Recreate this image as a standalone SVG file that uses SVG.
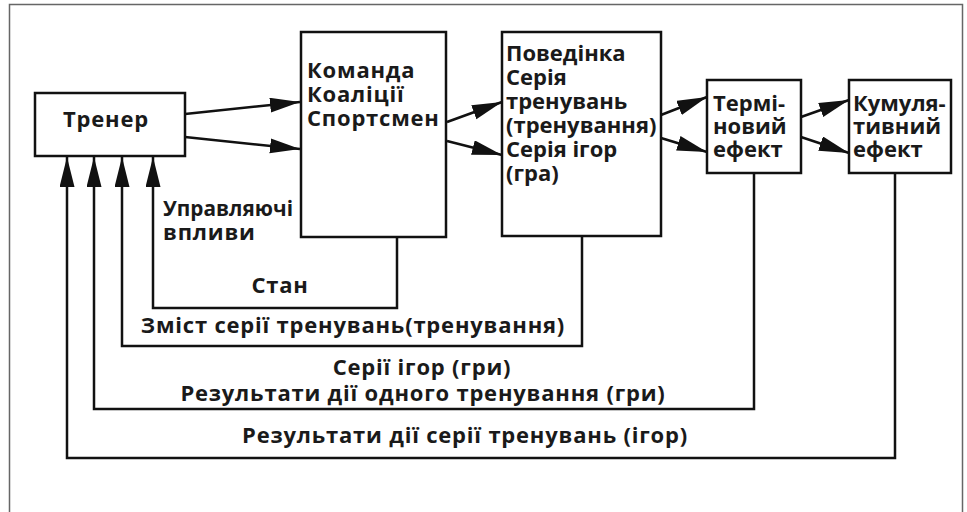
<svg xmlns="http://www.w3.org/2000/svg" width="967" height="512" viewBox="0 0 967 512">
<style>
.box{fill:#fff;stroke:#111;stroke-width:2.5}
.ln{fill:none;stroke:#111;stroke-width:2.5}
text{font-family:"Open Sans","Liberation Sans",sans-serif;font-weight:700;font-size:22px;fill:#1a1a1a}
.c{text-anchor:middle}
.w{letter-spacing:0.8px}
</style>
<defs>
<marker id="ah" markerUnits="userSpaceOnUse" markerWidth="32" markerHeight="16" refX="30" refY="7.5" orient="auto">
<path d="M0,0 L30,7.5 L0,15 z" fill="#111"/>
</marker>
</defs>
<rect x="9.5" y="4.5" width="953" height="530" fill="#fff" stroke="#666" stroke-width="1.5"/>
<g id="trener">
<rect class="box" x="35" y="93" width="150" height="63"/>
<text class="c w" x="106" y="127">Тренер</text>
</g>
<g id="komanda">
<rect class="box" x="301" y="32" width="145" height="205"/>
<text class="w" x="307" y="78">Команда</text>
<text class="w" x="307" y="102">Коаліції</text>
<text class="w" x="307" y="126">Спортсмен</text>
</g>
<g id="povedinka">
<rect class="box" x="502" y="32" width="159" height="204"/>
<text x="506" y="61">Поведінка</text>
<text x="506" y="85">Серія</text>
<text x="506" y="109">тренувань</text>
<text x="506" y="133">(тренування)</text>
<text x="506" y="157">Серія ігор</text>
<text x="506" y="181">(гра)</text>
</g>
<g id="terminovyi">
<rect class="box" x="707" y="80" width="94" height="93"/>
<text x="713" y="111">Термі-</text>
<text x="713" y="134">новий</text>
<text x="713" y="157">ефект</text>
</g>
<g id="kumuliatyvnyi">
<rect class="box" x="849" y="80" width="102" height="93"/>
<text x="853" y="111">Кумуля-</text>
<text x="853" y="134">тивний</text>
<text x="853" y="157">ефект</text>
</g>
<g id="connectors">
<line class="ln" x1="185" y1="114" x2="300" y2="102" marker-end="url(#ah)"/>
<line class="ln" x1="185" y1="137" x2="300" y2="149" marker-end="url(#ah)"/>
<line class="ln" x1="447" y1="122" x2="502" y2="102" marker-end="url(#ah)"/>
<line class="ln" x1="447" y1="141" x2="502" y2="155" marker-end="url(#ah)"/>
<line class="ln" x1="661" y1="115" x2="707" y2="97" marker-end="url(#ah)"/>
<line class="ln" x1="661" y1="138" x2="707" y2="152" marker-end="url(#ah)"/>
<line class="ln" x1="801" y1="117" x2="849" y2="100" marker-end="url(#ah)"/>
<line class="ln" x1="801" y1="137" x2="849" y2="153" marker-end="url(#ah)"/>
<polyline class="ln" points="397,237 397,308 153,308 153,157" marker-end="url(#ah)"/>
<polyline class="ln" points="582,236 582,346 122,346 122,157" marker-end="url(#ah)"/>
<polyline class="ln" points="754,173 754,409 94,409 94,157" marker-end="url(#ah)"/>
<polyline class="ln" points="895,173 895,458 67,458 67,157" marker-end="url(#ah)"/>
<text x="163" y="216" textLength="130" lengthAdjust="spacingAndGlyphs">Управляючі</text>
<text class="w" x="163" y="240">впливи</text>
<text class="c w" x="280" y="293">Стан</text>
<text class="c w" x="353" y="333">Зміст серії тренувань(тренування)</text>
<text class="c w" x="422" y="375">Серії ігор (гри)</text>
<text class="c w" x="423" y="401">Результати дії одного тренування (гри)</text>
<text class="c w" x="465" y="443">Результати дії серії тренувань (ігор)</text>
</g>
</svg>
